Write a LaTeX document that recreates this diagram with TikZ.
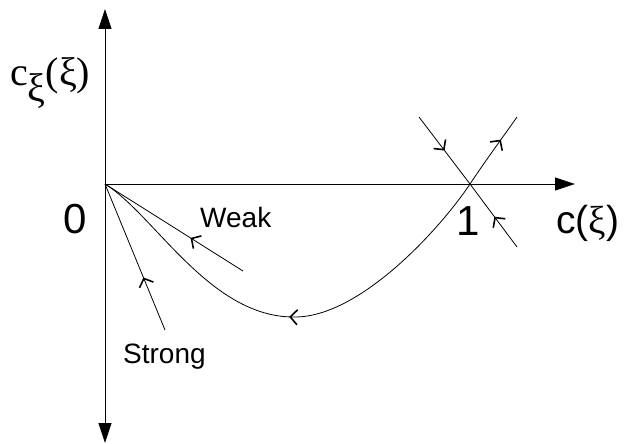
\documentclass[tikz,border=0pt]{standalone}
\usepackage{fontspec}
\setmainfont{Liberation Sans}
\newfontfamily\serifgr{Liberation Serif}
\usetikzlibrary{arrows.meta, decorations.markings}
\tikzset{
    % thin solid orbits of the phase plane
    orbit/.style={line width=0.8pt},
    % axes, with a filled tip
    axis/.style={line width=0.8pt, -{Triangle[length=20pt, width=13pt]}},
    % orbit with an open barb placed along it
    flow/.style={orbit, postaction={decorate}, decoration={markings,
        mark=at position #1 with {\arrow{Straight Barb[length=7pt, width=15pt, line width=1.6pt]}}}},
    % texts
    lbl/.style={inner sep=0pt, font=\fontsize{28}{28}\selectfont},
    biglbl/.style={inner sep=0pt, font=\fontsize{42}{42}\selectfont},
}
\newcommand{\gxi}{{\serifgr ξ}}

\begin{document}
\begin{tikzpicture}[x=1pt, y=-1pt]
\useasboundingbox (0,0) rectangle (626,444);

% ---- axes ----
\coordinate (O)    at (105,184);
\coordinate (one)  at (470,184);
\coordinate (ytop) at (105,9);
\coordinate (ybot) at (105,443);
\coordinate (xend) at (575,184);
\draw[axis] (O) -- (ytop);
\draw[axis] (O) -- (ybot);
\draw[axis] (O) -- (xend);

% ---- saddle at 1 ----
\coordinate (ul) at (419,117);
\coordinate (lr) at (517,247);
\coordinate (ur) at (517,117);
\draw[flow=0.5]  (ul) -- (one);
\draw[flow=0.48] (lr) -- (one);
\draw[flow=0.66] (one) .. controls (488,157) and (503,137) .. (ur);

% heteroclinic orbit from 1 to 0
\draw[flow=0.5] (one) .. controls (440,229) and (360,317) .. (295,317)
    .. controls (210,318) and (155,215) .. (O);

% ---- weak and strong directions at 0 ----
\coordinate (wk) at (243,271);
\coordinate (st) at (165,330);
\draw[flow=0.38] (wk) -- (O);
\draw[flow=0.36] (st) -- (O);

% ---- labels ----
\node[biglbl, anchor=base] (zero) at (75,233) {0};
\node[biglbl, anchor=base] (onelbl) at (468,235) {1};
\node[lbl, anchor=west] (weak) at (200,217) {Weak};
\node[lbl, anchor=base west] (strong) at (123,363) {Strong};
\node[inner sep=0pt, anchor=base west, font=\fontsize{39}{39}\selectfont] (xlbl) at (556,233) {c(\gxi)};
\node[inner sep=0pt, anchor=base west, font=\serifgr\fontsize{40}{40}\selectfont] (ylbl) at (10,85)
    {c\raisebox{-16pt}{ξ}(ξ)};

\end{tikzpicture}
\end{document}
